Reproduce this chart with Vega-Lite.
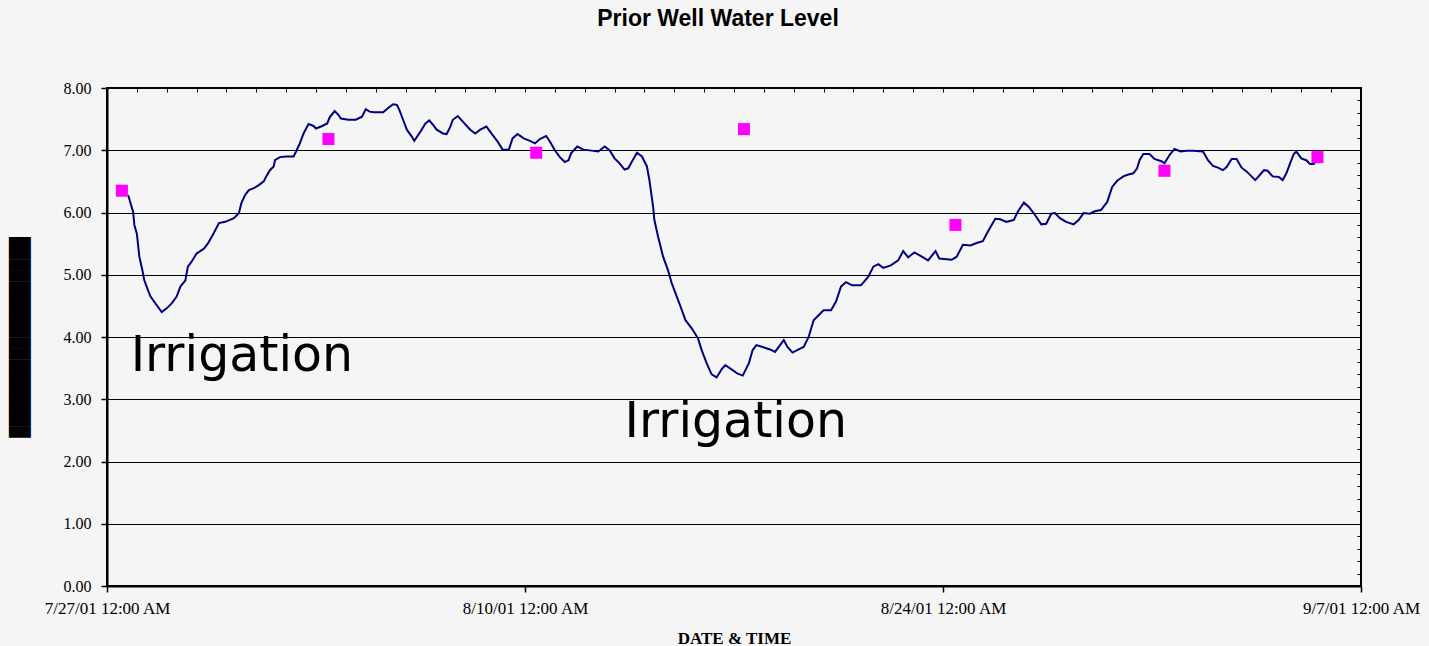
{
  "$schema": "https://vega.github.io/schema/vega-lite/v6.json",
  "autosize": "none",
  "width": 1254,
  "height": 498,
  "padding": {"left": 107, "top": 88, "right": 68, "bottom": 60},
  "background": "#f5f5f5",
  "config": {
    "view": {"stroke": "black", "strokeWidth": 2},
    "axis": {"tickColor": "black", "domainColor": "black", "labelColor": "black", "titleColor": "black"}
  },
  "title": {
    "text": "Prior Well Water Level",
    "font": "Liberation Sans",
    "fontSize": 23,
    "fontWeight": "bold",
    "color": "black",
    "anchor": "middle",
    "frame": "group",
    "dx": -16,
    "offset": 49
  },
  "datasets": {
    "level": [
      {"t": "2001-07-27T17:00", "v": 6.28}, {"t": "2001-07-27T21:00", "v": 6.01}, {"t": "2001-07-27T22:00", "v": 5.80},
      {"t": "2001-07-28T00:00", "v": 5.66}, {"t": "2001-07-28T02:00", "v": 5.29}, {"t": "2001-07-28T05:00", "v": 5.02}, {"t": "2001-07-28T06:00", "v": 4.91}, {"t": "2001-07-28T09:00", "v": 4.75}, {"t": "2001-07-28T11:00", "v": 4.65}, {"t": "2001-07-28T16:00", "v": 4.51}, {"t": "2001-07-28T20:00", "v": 4.40},
      {"t": "2001-07-29T00:00", "v": 4.46}, {"t": "2001-07-29T04:00", "v": 4.54}, {"t": "2001-07-29T08:00", "v": 4.65}, {"t": "2001-07-29T11:00", "v": 4.81}, {"t": "2001-07-29T15:00", "v": 4.91}, {"t": "2001-07-29T17:00", "v": 5.13}, {"t": "2001-07-29T20:00", "v": 5.21},
      {"t": "2001-07-30T00:00", "v": 5.34}, {"t": "2001-07-30T06:00", "v": 5.42}, {"t": "2001-07-30T09:00", "v": 5.50}, {"t": "2001-07-30T13:00", "v": 5.64}, {"t": "2001-07-30T18:00", "v": 5.83}, {"t": "2001-07-30T23:00", "v": 5.85},
      {"t": "2001-07-31T06:00", "v": 5.91}, {"t": "2001-07-31T10:00", "v": 5.99}, {"t": "2001-07-31T12:00", "v": 6.15}, {"t": "2001-07-31T15:00", "v": 6.28}, {"t": "2001-07-31T18:00", "v": 6.36}, {"t": "2001-07-31T22:00", "v": 6.39},
      {"t": "2001-08-01T02:00", "v": 6.44}, {"t": "2001-08-01T06:00", "v": 6.50}, {"t": "2001-08-01T08:00", "v": 6.58}, {"t": "2001-08-01T11:00", "v": 6.68}, {"t": "2001-08-01T14:00", "v": 6.74}, {"t": "2001-08-01T15:00", "v": 6.84}, {"t": "2001-08-01T19:00", "v": 6.89},
      {"t": "2001-08-02T00:00", "v": 6.90}, {"t": "2001-08-02T06:00", "v": 6.90}, {"t": "2001-08-02T08:00", "v": 6.98}, {"t": "2001-08-02T11:00", "v": 7.11}, {"t": "2001-08-02T14:00", "v": 7.27}, {"t": "2001-08-02T18:00", "v": 7.42}, {"t": "2001-08-02T22:00", "v": 7.39},
      {"t": "2001-08-03T00:00", "v": 7.35}, {"t": "2001-08-03T05:00", "v": 7.39}, {"t": "2001-08-03T09:00", "v": 7.43}, {"t": "2001-08-03T11:00", "v": 7.53}, {"t": "2001-08-03T15:00", "v": 7.63}, {"t": "2001-08-03T18:00", "v": 7.57}, {"t": "2001-08-03T20:00", "v": 7.51},
      {"t": "2001-08-04T02:00", "v": 7.49}, {"t": "2001-08-04T08:00", "v": 7.49}, {"t": "2001-08-04T13:00", "v": 7.54}, {"t": "2001-08-04T16:00", "v": 7.66}, {"t": "2001-08-04T19:00", "v": 7.62}, {"t": "2001-08-04T23:00", "v": 7.61},
      {"t": "2001-08-05T06:00", "v": 7.61}, {"t": "2001-08-05T10:00", "v": 7.68}, {"t": "2001-08-05T14:00", "v": 7.74}, {"t": "2001-08-05T17:00", "v": 7.73}, {"t": "2001-08-05T19:00", "v": 7.65}, {"t": "2001-08-05T22:00", "v": 7.49},
      {"t": "2001-08-06T01:00", "v": 7.33}, {"t": "2001-08-06T05:00", "v": 7.22}, {"t": "2001-08-06T07:00", "v": 7.15}, {"t": "2001-08-06T12:00", "v": 7.30}, {"t": "2001-08-06T16:00", "v": 7.43}, {"t": "2001-08-06T19:00", "v": 7.48}, {"t": "2001-08-06T22:00", "v": 7.41},
      {"t": "2001-08-07T01:00", "v": 7.33}, {"t": "2001-08-07T06:00", "v": 7.27}, {"t": "2001-08-07T09:00", "v": 7.26}, {"t": "2001-08-07T12:00", "v": 7.38}, {"t": "2001-08-07T14:00", "v": 7.49}, {"t": "2001-08-07T18:00", "v": 7.55}, {"t": "2001-08-07T22:00", "v": 7.46},
      {"t": "2001-08-08T04:00", "v": 7.33}, {"t": "2001-08-08T08:00", "v": 7.27}, {"t": "2001-08-08T12:00", "v": 7.33}, {"t": "2001-08-08T17:00", "v": 7.38}, {"t": "2001-08-08T21:00", "v": 7.27},
      {"t": "2001-08-09T02:00", "v": 7.14}, {"t": "2001-08-09T06:00", "v": 7.01}, {"t": "2001-08-09T11:00", "v": 7.01}, {"t": "2001-08-09T14:00", "v": 7.19}, {"t": "2001-08-09T18:00", "v": 7.26}, {"t": "2001-08-09T23:00", "v": 7.19},
      {"t": "2001-08-10T04:00", "v": 7.15}, {"t": "2001-08-10T08:00", "v": 7.11}, {"t": "2001-08-10T12:00", "v": 7.18}, {"t": "2001-08-10T17:00", "v": 7.23}, {"t": "2001-08-10T20:00", "v": 7.14},
      {"t": "2001-08-11T00:00", "v": 7.00}, {"t": "2001-08-11T04:00", "v": 6.89}, {"t": "2001-08-11T08:00", "v": 6.81}, {"t": "2001-08-11T11:00", "v": 6.84}, {"t": "2001-08-11T13:00", "v": 6.95}, {"t": "2001-08-11T18:00", "v": 7.06}, {"t": "2001-08-11T23:00", "v": 7.01},
      {"t": "2001-08-12T07:00", "v": 6.99}, {"t": "2001-08-12T11:00", "v": 6.98}, {"t": "2001-08-12T16:00", "v": 7.06}, {"t": "2001-08-12T20:00", "v": 7.00},
      {"t": "2001-08-13T00:00", "v": 6.87}, {"t": "2001-08-13T04:00", "v": 6.79}, {"t": "2001-08-13T08:00", "v": 6.69}, {"t": "2001-08-13T11:00", "v": 6.71}, {"t": "2001-08-13T14:00", "v": 6.82}, {"t": "2001-08-13T18:00", "v": 6.96}, {"t": "2001-08-13T22:00", "v": 6.90},
      {"t": "2001-08-14T02:00", "v": 6.74}, {"t": "2001-08-14T04:00", "v": 6.52}, {"t": "2001-08-14T07:00", "v": 6.09}, {"t": "2001-08-14T08:00", "v": 5.88}, {"t": "2001-08-14T11:00", "v": 5.61}, {"t": "2001-08-14T15:00", "v": 5.29}, {"t": "2001-08-14T19:00", "v": 5.07}, {"t": "2001-08-14T22:00", "v": 4.86},
      {"t": "2001-08-15T02:00", "v": 4.65}, {"t": "2001-08-15T05:00", "v": 4.49}, {"t": "2001-08-15T09:00", "v": 4.27}, {"t": "2001-08-15T14:00", "v": 4.14}, {"t": "2001-08-15T19:00", "v": 3.98}, {"t": "2001-08-15T22:00", "v": 3.79},
      {"t": "2001-08-16T02:00", "v": 3.58}, {"t": "2001-08-16T06:00", "v": 3.40}, {"t": "2001-08-16T10:00", "v": 3.35}, {"t": "2001-08-16T14:00", "v": 3.48}, {"t": "2001-08-16T17:00", "v": 3.55}, {"t": "2001-08-16T22:00", "v": 3.48},
      {"t": "2001-08-17T03:00", "v": 3.41}, {"t": "2001-08-17T07:00", "v": 3.38}, {"t": "2001-08-17T12:00", "v": 3.58}, {"t": "2001-08-17T15:00", "v": 3.79}, {"t": "2001-08-17T18:00", "v": 3.87}, {"t": "2001-08-17T23:00", "v": 3.84},
      {"t": "2001-08-18T05:00", "v": 3.80}, {"t": "2001-08-18T09:00", "v": 3.76}, {"t": "2001-08-18T13:00", "v": 3.87}, {"t": "2001-08-18T16:00", "v": 3.95}, {"t": "2001-08-18T19:00", "v": 3.84}, {"t": "2001-08-18T23:00", "v": 3.75},
      {"t": "2001-08-19T04:00", "v": 3.80}, {"t": "2001-08-19T08:00", "v": 3.84}, {"t": "2001-08-19T12:00", "v": 4.00}, {"t": "2001-08-19T16:00", "v": 4.27}, {"t": "2001-08-19T20:00", "v": 4.35},
      {"t": "2001-08-20T00:00", "v": 4.43}, {"t": "2001-08-20T06:00", "v": 4.43}, {"t": "2001-08-20T10:00", "v": 4.57}, {"t": "2001-08-20T14:00", "v": 4.81}, {"t": "2001-08-20T18:00", "v": 4.88}, {"t": "2001-08-20T23:00", "v": 4.83},
      {"t": "2001-08-21T06:00", "v": 4.83}, {"t": "2001-08-21T12:00", "v": 4.97}, {"t": "2001-08-21T16:00", "v": 5.13}, {"t": "2001-08-21T20:00", "v": 5.17},
      {"t": "2001-08-22T00:00", "v": 5.11}, {"t": "2001-08-22T06:00", "v": 5.15}, {"t": "2001-08-22T12:00", "v": 5.23}, {"t": "2001-08-22T16:00", "v": 5.38}, {"t": "2001-08-22T20:00", "v": 5.28},
      {"t": "2001-08-23T01:00", "v": 5.36}, {"t": "2001-08-23T07:00", "v": 5.29}, {"t": "2001-08-23T12:00", "v": 5.23}, {"t": "2001-08-23T18:00", "v": 5.38}, {"t": "2001-08-23T21:00", "v": 5.26},
      {"t": "2001-08-24T03:00", "v": 5.25}, {"t": "2001-08-24T07:00", "v": 5.24}, {"t": "2001-08-24T11:00", "v": 5.29}, {"t": "2001-08-24T16:00", "v": 5.48}, {"t": "2001-08-24T22:00", "v": 5.47},
      {"t": "2001-08-25T03:00", "v": 5.51}, {"t": "2001-08-25T08:00", "v": 5.54}, {"t": "2001-08-25T12:00", "v": 5.69}, {"t": "2001-08-25T18:00", "v": 5.90}, {"t": "2001-08-25T22:00", "v": 5.89},
      {"t": "2001-08-26T03:00", "v": 5.85}, {"t": "2001-08-26T09:00", "v": 5.88}, {"t": "2001-08-26T12:00", "v": 6.01}, {"t": "2001-08-26T17:00", "v": 6.16}, {"t": "2001-08-26T21:00", "v": 6.09},
      {"t": "2001-08-27T02:00", "v": 5.96}, {"t": "2001-08-27T07:00", "v": 5.81}, {"t": "2001-08-27T11:00", "v": 5.82}, {"t": "2001-08-27T15:00", "v": 5.98}, {"t": "2001-08-27T18:00", "v": 5.99}, {"t": "2001-08-27T22:00", "v": 5.91},
      {"t": "2001-08-28T03:00", "v": 5.85}, {"t": "2001-08-28T09:00", "v": 5.81}, {"t": "2001-08-28T13:00", "v": 5.88}, {"t": "2001-08-28T17:00", "v": 5.99}, {"t": "2001-08-28T22:00", "v": 5.98},
      {"t": "2001-08-29T02:00", "v": 6.02}, {"t": "2001-08-29T07:00", "v": 6.04}, {"t": "2001-08-29T12:00", "v": 6.17}, {"t": "2001-08-29T16:00", "v": 6.41}, {"t": "2001-08-29T20:00", "v": 6.51},
      {"t": "2001-08-30T01:00", "v": 6.58}, {"t": "2001-08-30T05:00", "v": 6.61}, {"t": "2001-08-30T09:00", "v": 6.63}, {"t": "2001-08-30T12:00", "v": 6.71}, {"t": "2001-08-30T14:00", "v": 6.84}, {"t": "2001-08-30T17:00", "v": 6.94}, {"t": "2001-08-30T22:00", "v": 6.94},
      {"t": "2001-08-31T02:00", "v": 6.86}, {"t": "2001-08-31T08:00", "v": 6.82}, {"t": "2001-08-31T10:00", "v": 6.79}, {"t": "2001-08-31T14:00", "v": 6.92}, {"t": "2001-08-31T18:00", "v": 7.02}, {"t": "2001-08-31T23:00", "v": 6.98},
      {"t": "2001-09-01T04:00", "v": 6.99}, {"t": "2001-09-01T09:00", "v": 6.99}, {"t": "2001-09-01T17:00", "v": 6.98}, {"t": "2001-09-01T21:00", "v": 6.84},
      {"t": "2001-09-02T01:00", "v": 6.75}, {"t": "2001-09-02T05:00", "v": 6.72}, {"t": "2001-09-02T09:00", "v": 6.68}, {"t": "2001-09-02T12:00", "v": 6.73}, {"t": "2001-09-02T16:00", "v": 6.86}, {"t": "2001-09-02T20:00", "v": 6.86},
      {"t": "2001-09-03T00:00", "v": 6.72}, {"t": "2001-09-03T04:00", "v": 6.66}, {"t": "2001-09-03T08:00", "v": 6.58}, {"t": "2001-09-03T11:00", "v": 6.52}, {"t": "2001-09-03T15:00", "v": 6.61}, {"t": "2001-09-03T18:00", "v": 6.68}, {"t": "2001-09-03T21:00", "v": 6.67},
      {"t": "2001-09-04T01:00", "v": 6.58}, {"t": "2001-09-04T06:00", "v": 6.57}, {"t": "2001-09-04T09:00", "v": 6.52}, {"t": "2001-09-04T12:00", "v": 6.63}, {"t": "2001-09-04T15:00", "v": 6.79}, {"t": "2001-09-04T18:00", "v": 6.94}, {"t": "2001-09-04T20:00", "v": 6.98},
      {"t": "2001-09-05T00:00", "v": 6.87}, {"t": "2001-09-05T04:00", "v": 6.84}, {"t": "2001-09-05T07:00", "v": 6.78}, {"t": "2001-09-05T10:00", "v": 6.78}, {"t": "2001-09-05T12:00", "v": 6.84}
    ],
    "manual": [
      {"t": "2001-07-27T12:00", "v": 6.35},
      {"t": "2001-08-03T10:00", "v": 7.18},
      {"t": "2001-08-10T09:00", "v": 6.96},
      {"t": "2001-08-17T08:00", "v": 7.34},
      {"t": "2001-08-24T10:00", "v": 5.80},
      {"t": "2001-08-31T10:00", "v": 6.67},
      {"t": "2001-09-05T13:00", "v": 6.89}
    ],
    "notes": [
      {"t": "2001-07-27T19:00", "v": 3.45, "label": "Irrigation"},
      {"t": "2001-08-13T08:00", "v": 2.39, "label": "Irrigation"}
    ]
  },
  "layer": [
    {
      "data": {"name": "level"},
      "mark": {"type": "line", "color": "#000080", "strokeWidth": 2},
      "encoding": {
        "x": {
          "field": "t", "type": "temporal",
          "scale": {"domain": [{"year": 2001, "month": 7, "date": 27}, {"year": 2001, "month": 9, "date": 7}], "nice": false},
          "axis": {
            "values": [{"year": 2001, "month": 7, "date": 27}, {"year": 2001, "month": 8, "date": 10}, {"year": 2001, "month": 8, "date": 24}, {"year": 2001, "month": 9, "date": 7}],
            "format": "%-m/%-d/%y %-I:%M %p",
            "tickSize": 6, "tickWidth": 1.5,
            "domainWidth": 2,
            "grid": false,
            "labelFont": "Liberation Serif", "labelFontSize": 17,
            "labelPadding": 21, "labelBaseline": "alphabetic",
            "labelFlush": false, "labelOverlap": false,
            "title": "DATE & TIME",
            "titleFont": "Liberation Serif", "titleFontSize": 17, "titleFontWeight": "bold",
            "titleY": 57, "titleBaseline": "alphabetic"
          }
        },
        "y": {
          "field": "v", "type": "quantitative",
          "scale": {"domain": [0, 8], "nice": false},
          "axis": {
            "values": [0, 1, 2, 3, 4, 5, 6, 7, 8],
            "format": ".2f",
            "tickSize": 6, "tickWidth": 1.5,
            "domainWidth": 2,
            "grid": true, "gridColor": "black", "gridWidth": 1, "gridOpacity": 1,
            "labelFont": "Liberation Serif", "labelFontSize": 16, "labelPadding": 10,
            "title": "██████████████████",
            "titleFont": "DejaVu Sans Mono", "titleFontSize": 18.5, "titleFontWeight": "normal",
            "titleAngle": 270, "titleAlign": "center", "titleBaseline": "alphabetic",
            "titleX": -81.5, "titleY": 249
          }
        }
      }
    },
    {
      "data": {"name": "manual"},
      "mark": {"type": "point", "shape": "square", "filled": true, "size": 144, "color": "#ff00ff", "opacity": 1},
      "encoding": {
        "x": {
          "field": "t", "type": "temporal",
          "scale": {"domain": [{"year": 2001, "month": 7, "date": 27}, {"year": 2001, "month": 9, "date": 7}], "nice": false},
          "axis": {"tickCount": {"interval": "day", "step": 1}, "tickSize": -4, "tickWidth": 1, "labels": false, "domain": false, "grid": false, "title": null}
        },
        "y": {
          "field": "v", "type": "quantitative",
          "scale": {"domain": [0, 8], "nice": false},
          "axis": {"tickCount": 40, "tickSize": -4, "tickWidth": 1, "labels": false, "domain": false, "grid": false, "title": null}
        }
      }
    },
    {
      "data": {"name": "notes"},
      "mark": {"type": "text", "font": "DejaVu Sans", "fontSize": 49, "align": "left", "baseline": "alphabetic", "color": "black"},
      "encoding": {
        "x": {"field": "t", "type": "temporal", "axis": null},
        "y": {"field": "v", "type": "quantitative", "axis": null},
        "text": {"field": "label"}
      }
    }
  ],
  "resolve": {"axis": {"x": "independent", "y": "independent"}}
}
